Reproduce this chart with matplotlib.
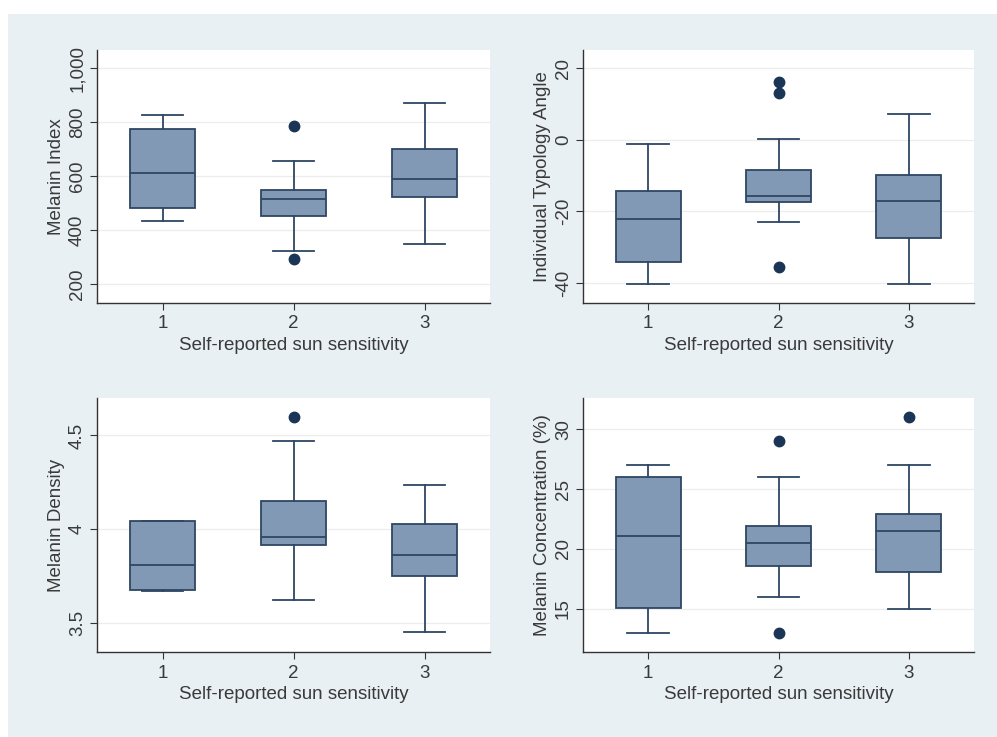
import matplotlib.pyplot as plt
from matplotlib.patches import Rectangle
from matplotlib.ticker import FuncFormatter

plt.rcParams['font.family'] = ['Liberation Sans', 'DejaVu Sans']

groups = [1, 2, 3]
xlab = "Self-reported sun sensitivity"

# Melanin Index
mi_whislo = [434, 323, 347]
mi_q1 = [483, 452, 522]
mi_med = [612, 514, 591]
mi_q3 = [775, 549, 702]
mi_whishi = [827, 655, 870]
mi_fliers = [[], [786, 293], []]

# Individual Typology Angle
ita_whislo = [-40.2, -22.9, -40.2]
ita_q1 = [-34.1, -17.4, -27.4]
ita_med = [-22.2, -15.6, -17.2]
ita_q3 = [-14.3, -8.4, -9.9]
ita_whishi = [-1.1, 0.3, 7.3]
ita_fliers = [[], [16.1, 13.0, -35.5], []]

# Melanin Density
md_whislo = [3.673, 3.623, 3.45]
md_q1 = [3.676, 3.915, 3.753]
md_med = [3.808, 3.957, 3.861]
md_q3 = [4.046, 4.151, 4.03]
md_whishi = [4.046, 4.47, 4.235]
md_fliers = [[], [4.598], []]

# Melanin Concentration (%)
mc_whislo = [13.0, 16.0, 15.0]
mc_q1 = [15.06, 18.6, 18.1]
mc_med = [21.06, 20.5, 21.5]
mc_q3 = [26.0, 21.95, 22.9]
mc_whishi = [27.0, 26.0, 27.0]
mc_fliers = [[], [29.0, 13.0], [31.0]]

panels = [
    ("Melanin Index", mi_whislo, mi_q1, mi_med, mi_q3, mi_whishi, mi_fliers,
     [200, 400, 600, 800, 1000], (130, 1067)),
    ("Individual Typology Angle", ita_whislo, ita_q1, ita_med, ita_q3, ita_whishi, ita_fliers,
     [-40, -20, 0, 20], (-45.6, 25.1)),
    ("Melanin Density", md_whislo, md_q1, md_med, md_q3, md_whishi, md_fliers,
     [3.5, 4, 4.5], (3.345, 4.70)),
    ("Melanin Concentration (%)", mc_whislo, mc_q1, mc_med, mc_q3, mc_whishi, mc_fliers,
     [15, 20, 25, 30], (11.4, 32.6)),
]

box_fill = '#8199b4'
edge = '#2e4763'
dot = '#1b3556'
txt = '#3a3a3a'
bg = '#e9f0f3'

fig = plt.figure(figsize=(9.97, 7.37), dpi=100)
fig.patches.append(Rectangle((8 / 997, 0), 1, 1 - 14 / 737, transform=fig.transFigure,
                             facecolor=bg, edgecolor='none', zorder=-10))

W, H = 997, 737
boxes = [(97, 50, 490, 303), (583, 50, 974, 303), (97, 398, 490, 652), (583, 398, 974, 652)]

def fmt(v, pos):
    if abs(v - round(v)) < 1e-9:
        return '{:,.0f}'.format(v)
    return '{:g}'.format(v)

fs = 13.5

for (ylab, lo, q1, med, q3, hi, fl, yt, yl), (x0, y0, x1, y1) in zip(panels, boxes):
    ax = fig.add_axes([x0 / W, 1 - y1 / H, (x1 - x0) / W, (y1 - y0) / H])
    ax.set_facecolor('white')
    stats = []
    for i in range(3):
        stats.append(dict(whislo=lo[i], q1=q1[i], med=med[i], q3=q3[i], whishi=hi[i], fliers=fl[i]))
    ax.bxp(stats, positions=groups, widths=0.5, capwidths=0.32, patch_artist=True,
           boxprops=dict(facecolor=box_fill, edgecolor=edge, linewidth=1.3),
           medianprops=dict(color=edge, linewidth=1.3),
           whiskerprops=dict(color=edge, linewidth=1.3),
           capprops=dict(color=edge, linewidth=1.3),
           flierprops=dict(marker='o', markerfacecolor=dot, markeredgecolor=dot, markersize=7.5))
    ax.set_xlim(0.5, 3.5)
    ax.set_ylim(*yl)
    ax.set_yticks(yt)
    ax.yaxis.set_major_formatter(FuncFormatter(fmt))
    ax.set_xticks(groups)
    ax.set_xticklabels([str(g) for g in groups])
    ax.grid(axis='y', color='#ececec', linewidth=0.9)
    ax.set_axisbelow(True)
    for s in ['top', 'right']:
        ax.spines[s].set_visible(False)
    for s in ['left', 'bottom']:
        ax.spines[s].set_color('#333333')
        ax.spines[s].set_linewidth(1.0)
    ax.tick_params(axis='y', labelrotation=90, length=5, color='#333333', labelsize=fs,
                   labelcolor=txt, pad=3)
    ax.tick_params(axis='x', length=5, color='#333333', labelsize=fs, labelcolor=txt, pad=4)
    for t in ax.get_yticklabels():
        t.set_va('center')
    ax.set_ylabel(ylab, fontsize=fs, color=txt, labelpad=3)
    ax.set_xlabel(xlab, fontsize=fs, color=txt, labelpad=3)

fig.savefig('out.png', dpi=100)
